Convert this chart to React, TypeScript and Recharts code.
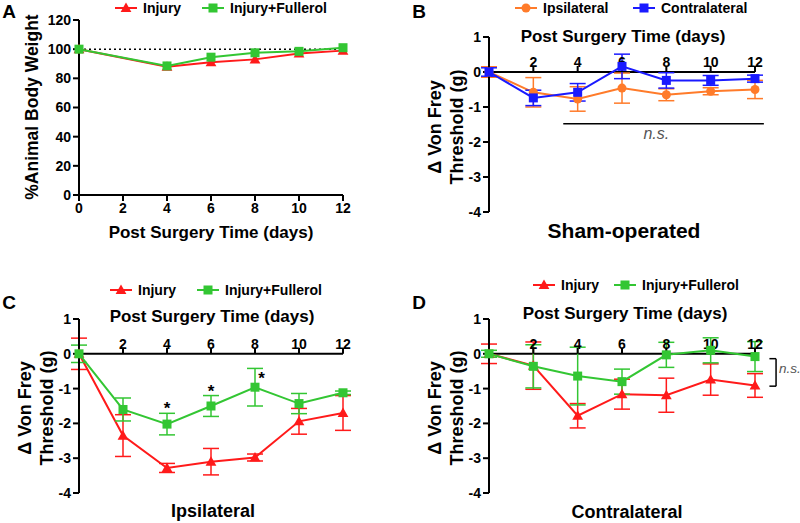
import React from 'react';
import { LineChart, Line, XAxis, YAxis, ErrorBar, ReferenceLine, ReferenceDot } from 'recharts';

// shared axes
const dayTicks = [0, 2, 4, 6, 8, 10, 12];
const topDayTicks = [2, 4, 6, 8, 10, 12];
const weightTicks = [0, 20, 40, 60, 80, 100, 120];
const thresholdTicks = [1, 0, -1, -2, -3, -4];

// A: body weight
const weightDays = [0, 4, 6, 8, 10, 12];
const weightInjury = [100, 88, 91, 93, 97, 99];
const weightFullerol = [100, 88.5, 94.5, 97.5, 98.5, 101];

// B: sham-operated
const days = [0, 2, 4, 6, 8, 10, 12];
const shamIpsi = [0, -0.58, -0.77, -0.46, -0.65, -0.55, -0.5];
const shamIpsiErr = [0.15, 0.42, 0.35, 0.43, 0.17, 0.1, 0.26];
const shamContra = [0, -0.74, -0.58, 0.16, -0.24, -0.24, -0.19];
const shamContraErr = [0.12, 0.22, 0.25, 0.35, 0.22, 0.14, 0.1];

// C: ipsilateral
const ipsiInjury = [0, -2.35, -3.28, -3.1, -2.98, -1.94, -1.7];
const ipsiInjuryErr = [0.45, 0.6, 0.13, 0.38, 0.1, 0.37, 0.5];
const ipsiFullerol = [0, -1.6, -2.02, -1.5, -0.96, -1.43, -1.12];
const ipsiFullerolErr = [0.25, 0.33, 0.31, 0.3, 0.54, 0.29, 0.05];
const starDays = [4, 6, 8.3];
const starLevels = [-1.56, -1.07, -0.69];

// D: contralateral
const contraInjury = [0, -0.34, -1.78, -1.16, -1.19, -0.74, -0.91];
const contraInjuryErr = [0.28, 0.68, 0.35, 0.43, 0.49, 0.45, 0.34];
const contraFullerol = [0, -0.36, -0.64, -0.8, -0.03, 0.1, -0.08];
const contraFullerolErr = [0.1, 0.62, 0.83, 0.36, 0.36, 0.36, 0.43];

const RED = '#ff1a1a';
const GREEN = '#33c633';
const ORANGE = '#ff7b2a';
const BLUE = '#1a1aff';
const FONT = '"Liberation Sans", Arial, sans-serif';

const weightData = weightDays.map((d, i) => ({ day: d, inj: weightInjury[i], ful: weightFullerol[i] }));
const shamData = days.map((d, i) => ({ day: d, ipsi: shamIpsi[i], ipsiErr: shamIpsiErr[i], contra: shamContra[i], contraErr: shamContraErr[i] }));
const ipsiData = days.map((d, i) => ({ day: d, inj: ipsiInjury[i], injErr: ipsiInjuryErr[i], ful: ipsiFullerol[i], fulErr: ipsiFullerolErr[i] }));
const contraData = days.map((d, i) => ({ day: d, inj: contraInjury[i], injErr: contraInjuryErr[i], ful: contraFullerol[i], fulErr: contraFullerolErr[i] }));

const Marker = (props: any) => {
  const { cx, cy, shape, color, size = 9 } = props;
  if (cx == null || cy == null) return null;
  if (shape === 'triangle') {
    const w = size * 0.6;
    return <polygon points={`${cx},${cy - size * 0.6} ${cx - w},${cy + size * 0.45} ${cx + w},${cy + size * 0.45}`} fill={color} />;
  }
  if (shape === 'square') return <rect x={cx - size / 2} y={cy - size / 2} width={size} height={size} fill={color} />;
  return <circle cx={cx} cy={cy} r={size / 2} fill={color} />;
};

const Txt = ({ x, y, size, rotate, style, children }: any) => (
  <div
    style={{
      position: 'absolute',
      left: x,
      top: y,
      transform: `translate(-50%, -50%)${rotate ? ' rotate(-90deg)' : ''}`,
      fontSize: size,
      lineHeight: 1,
      whiteSpace: 'nowrap',
      ...style,
    }}
  >
    {children}
  </div>
);

const LegendItem = ({ x, y, color, shape, label }: any) => (
  <div style={{ position: 'absolute', left: x, top: y - 8, height: 16, display: 'flex', alignItems: 'center', fontSize: 14, whiteSpace: 'nowrap' }}>
    <svg width={22} height={14} style={{ display: 'block' }}>
      <line x1={0} y1={7} x2={22} y2={7} stroke={color} strokeWidth={2} />
      <Marker cx={11} cy={7} shape={shape} color={color} />
    </svg>
    <span style={{ marginLeft: 6 }}>{label}</span>
  </div>
);

const TopTick = (props: any) => {
  const { cx, cy, day } = props;
  return (
    <g>
      <line x1={cx} y1={cy} x2={cx} y2={cy - 6} stroke="#000" strokeWidth={2} />
      <text x={cx} y={cy - 5} textAnchor="middle" fontSize={14} fontWeight="bold" fill="#000">{day}</text>
    </g>
  );
};

const Note = (props: any) => {
  const { cx, cy, text, anchor = 'middle', size = 16, italic } = props;
  return (
    <text
      x={cx}
      y={cy + size * 0.36}
      textAnchor={anchor}
      fontSize={size}
      fontStyle={italic ? 'italic' : 'normal'}
      fontWeight={italic ? 'normal' : 'bold'}
      fill={italic ? '#555' : '#000'}
    >
      {text}
    </text>
  );
};

const axisStyle = {
  axisLine: { stroke: '#000', strokeWidth: 2 },
  tickLine: { stroke: '#000', strokeWidth: 2 },
  tick: { fontSize: 14, fontWeight: 'bold', fill: '#000' },
  tickSize: 6,
  tickMargin: 2,
};

const seriesLine = (key: string, errKey: string | null, color: string, shape: string) => (
  <Line
    type="linear"
    dataKey={key}
    stroke={color}
    strokeWidth={2}
    dot={<Marker shape={shape} color={color} />}
    activeDot={false}
    isAnimationActive={false}
  >
    {errKey && <ErrorBar dataKey={errKey} width={8} stroke={color} strokeWidth={1.5} direction="y" />}
  </Line>
);

const topAxis = () => [
  <ReferenceLine key="zero" y={0} stroke="#000" strokeWidth={2} />,
  ...topDayTicks.map((d) => (
    <ReferenceDot key={`t${d}`} x={d} y={0} r={0} shape={(p: any) => <TopTick {...p} day={d} />} />
  )),
];

export default function App() {
  return (
    <div style={{ position: 'absolute', left: 0, top: 0, width: 800, height: 523, background: '#fff', fontFamily: FONT, fontWeight: 'bold', color: '#000', overflow: 'hidden' }}>
      {/* A */}
      <div style={{ position: 'absolute', left: 0, top: 0 }}>
        <LineChart width={400} height={260} data={weightData} margin={{ top: 20, right: 57, bottom: 15, left: 0 }}>
          <XAxis dataKey="day" type="number" domain={[0, 12]} ticks={dayTicks} height={50} {...axisStyle} />
          <YAxis type="number" domain={[0, 120]} ticks={weightTicks} width={79} {...axisStyle} />
          <ReferenceLine y={100} stroke="#000" strokeWidth={1.5} strokeDasharray="2 3" />
          {seriesLine('inj', null, RED, 'triangle')}
          {seriesLine('ful', null, GREEN, 'square')}
        </LineChart>
      </div>
      <Txt x={9} y={11} size={19}>A</Txt>
      <LegendItem x={115} y={8} color={RED} shape="triangle" label="Injury" />
      <LegendItem x={202} y={8} color={GREEN} shape="square" label="Injury+Fullerol" />
      <Txt x={211} y={232} size={17}>Post Surgery Time (days)</Txt>
      <Txt x={33} y={107} size={17.5} rotate>%Animal Body Weight</Txt>

      {/* B */}
      <div style={{ position: 'absolute', left: 400, top: 0 }}>
        <LineChart width={400} height={260} data={shamData} margin={{ top: 37, right: 45, bottom: 48, left: 0 }}>
          <XAxis dataKey="day" type="number" domain={[0, 12]} hide height={0} />
          <YAxis type="number" domain={[-4, 1]} ticks={thresholdTicks} width={89} {...axisStyle} />
          {topAxis()}
          <ReferenceLine segment={[{ x: 3.35, y: -1.48 }, { x: 12.4, y: -1.48 }]} stroke="#000" strokeWidth={1.5} ifOverflow="visible" />
          <ReferenceDot x={7.55} y={-1.74} r={0} ifOverflow="visible" shape={(p: any) => <Note {...p} text="n.s." italic size={16} />} />
          {seriesLine('ipsi', 'ipsiErr', ORANGE, 'circle')}
          {seriesLine('contra', 'contraErr', BLUE, 'square')}
        </LineChart>
      </div>
      <Txt x={419} y={11} size={19}>B</Txt>
      <LegendItem x={515} y={8} color={ORANGE} shape="circle" label="Ipsilateral" />
      <LegendItem x={633} y={8} color={BLUE} shape="square" label="Contralateral" />
      <Txt x={623} y={36} size={17}>Post Surgery Time (days)</Txt>
      <Txt x={624} y={230} size={21}>Sham-operated</Txt>
      <Txt x={435} y={127} size={18} rotate>Δ Von Frey</Txt>
      <Txt x={457} y={127} size={18} rotate>Threshold (g)</Txt>

      {/* C */}
      <div style={{ position: 'absolute', left: 0, top: 270 }}>
        <LineChart width={400} height={253} data={ipsiData} margin={{ top: 49, right: 57, bottom: 30, left: 0 }}>
          <XAxis dataKey="day" type="number" domain={[0, 12]} hide height={0} />
          <YAxis type="number" domain={[-4, 1]} ticks={thresholdTicks} width={79} {...axisStyle} />
          {topAxis()}
          {seriesLine('inj', 'injErr', RED, 'triangle')}
          {seriesLine('ful', 'fulErr', GREEN, 'square')}
          {starDays.map((d, i) => (
            <ReferenceDot key={`s${d}`} x={d} y={starLevels[i]} r={0} shape={(p: any) => <Note {...p} text="*" size={17} />} />
          ))}
        </LineChart>
      </div>
      <Txt x={9} y={302} size={19}>C</Txt>
      <LegendItem x={110} y={290} color={RED} shape="triangle" label="Injury" />
      <LegendItem x={197} y={290} color={GREEN} shape="square" label="Injury+Fullerol" />
      <Txt x={212} y={316} size={17}>Post Surgery Time (days)</Txt>
      <Txt x={213} y={511} size={18}>Ipsilateral</Txt>
      <Txt x={25} y={408} size={18} rotate>Δ Von Frey</Txt>
      <Txt x={47} y={408} size={18} rotate>Threshold (g)</Txt>

      {/* D */}
      <div style={{ position: 'absolute', left: 400, top: 270 }}>
        <LineChart width={400} height={253} data={contraData} margin={{ top: 49, right: 45, bottom: 30, left: 0 }}>
          <XAxis dataKey="day" type="number" domain={[0, 12]} hide height={0} />
          <YAxis type="number" domain={[-4, 1]} ticks={thresholdTicks} width={89} {...axisStyle} />
          {topAxis()}
          {seriesLine('inj', 'injErr', RED, 'triangle')}
          {seriesLine('ful', 'fulErr', GREEN, 'square')}
          <ReferenceLine segment={[{ x: 12.95, y: -0.14 }, { x: 12.95, y: -0.93 }]} stroke="#000" strokeWidth={1.5} ifOverflow="visible" />
          <ReferenceLine segment={[{ x: 12.65, y: -0.14 }, { x: 12.95, y: -0.14 }]} stroke="#000" strokeWidth={1.5} ifOverflow="visible" />
          <ReferenceLine segment={[{ x: 12.65, y: -0.93 }, { x: 12.95, y: -0.93 }]} stroke="#000" strokeWidth={1.5} ifOverflow="visible" />
          <ReferenceDot x={13.08} y={-0.42} r={0} ifOverflow="visible" shape={(p: any) => <Note {...p} text="n.s." anchor="start" italic size={13.5} />} />
        </LineChart>
      </div>
      <Txt x={419} y={302} size={19}>D</Txt>
      <LegendItem x={533} y={285} color={RED} shape="triangle" label="Injury" />
      <LegendItem x={614} y={285} color={GREEN} shape="square" label="Injury+Fullerol" />
      <Txt x={625} y={313} size={17}>Post Surgery Time (days)</Txt>
      <Txt x={627} y={512} size={18}>Contralateral</Txt>
      <Txt x={435} y={408} size={18} rotate>Δ Von Frey</Txt>
      <Txt x={457} y={408} size={18} rotate>Threshold (g)</Txt>
    </div>
  );
}
